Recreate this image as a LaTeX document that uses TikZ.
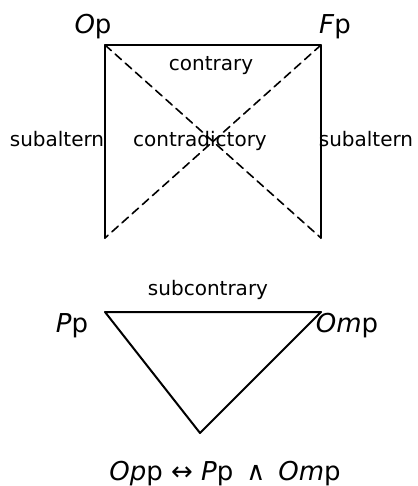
\documentclass[tikz,border=0pt]{standalone}
\usepackage{fontspec}
\setmainfont{DejaVu Sans}

\begin{document}
\begin{tikzpicture}[x=0.5pt,y=-0.5pt,line cap=round,line join=round,
    side/.style={line width=1pt},
    diag/.style={line width=0.8pt,dash pattern=on 4.2pt off 2.6pt},
    rel/.style={font=\fontsize{10}{12}\selectfont,anchor=base,inner sep=0pt},
    modal/.style={font=\fontsize{13}{15}\selectfont,anchor=base,inner sep=0pt}]
  \useasboundingbox (0,0) rectangle (417,486);
  % square of opposition
  \coordinate (op) at (105,45);
  \coordinate (fp) at (321,45);
  \coordinate (opb) at (105,238);
  \coordinate (fpb) at (321,238);
  \draw[side] (opb) -- (op) -- (fp) -- (fpb);
  \draw[diag] (op) -- (fpb);
  \draw[diag] (fp) -- (opb);
  \node[modal] (oplbl) at (93,34) {\textit{O}p};
  \node[modal] (fplbl) at (335,34) {\textit{F}p};
  \node[rel] (contrary) at (211,71) {contrary};
  \node[rel] (subl) at (57,147) {subaltern};
  \node[rel] (contra) at (200,147) {contradictory};
  \node[rel] (subr) at (366,147) {subaltern};
  % triangle
  \coordinate (pp) at (105,312);
  \coordinate (omp) at (321,312);
  \coordinate (bot) at (200,433);
  \draw[side] (pp) -- (omp) -- (bot) -- cycle;
  \node[rel] (subcon) at (208,295) {subcontrary};
  \node[modal] (pplbl) at (72,332) {\textit{P}p};
  \node[modal] (omplbl) at (347,332) {\textit{Om}p};
  \node[modal] (formula) at (225,480)
    {\textit{Op}p ↔ \textit{P}p\hspace{0.5em}∧\hspace{0.5em}\textit{Om}p};
\end{tikzpicture}
\end{document}
